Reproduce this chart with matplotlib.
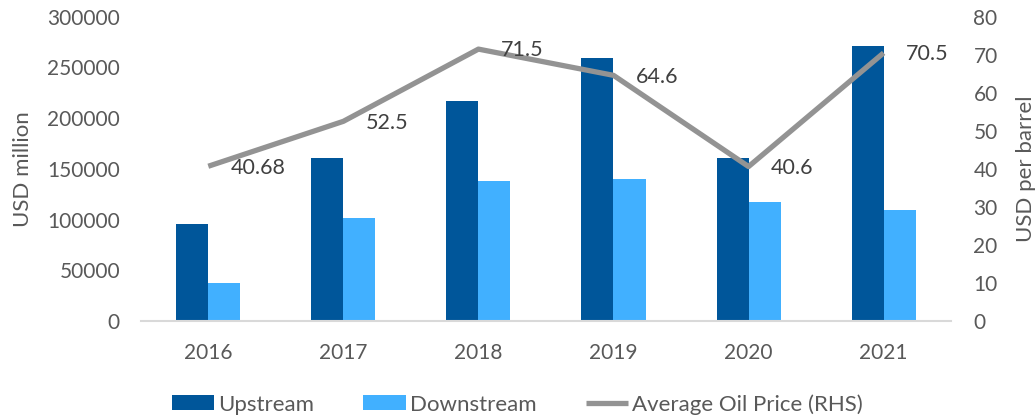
import matplotlib.pyplot as plt
import numpy as np

years = ["2016", "2017", "2018", "2019", "2020", "2021"]
upstream = [96000, 161000, 217000, 259000, 161000, 271000]
downstream = [37500, 101500, 138000, 140000, 117000, 109500]
oil_price = [40.68, 52.5, 71.5, 64.6, 40.6, 70.5]
price_labels = ["40.68", "52.5", "71.5", "64.6", "40.6", "70.5"]

plt.rcParams["font.family"] = ["Lato", "DejaVu Sans"]
text_col = "#595959"

fig = plt.figure(figsize=(10.35, 4.2), dpi=100)
ax = fig.add_axes([0.136, 0.236, 0.783, 0.724])
ax2 = ax.twinx()

x = np.arange(len(years))
w = 0.237
ax.bar(x - w / 2, upstream, w, color="#00569a", label="Upstream")
ax.bar(x + w / 2, downstream, w, color="#41b0ff", label="Downstream")
line, = ax2.plot(x, oil_price, color="#939393", lw=3.8, solid_capstyle="butt",
                 label="Average Oil Price (RHS)")
for xi, v, s in zip(x, oil_price, price_labels):
    ax2.annotate(s, (xi, v), xytext=(16, -1), textcoords="offset points",
                 ha="left", va="center", fontsize=15.5, color="#404040")

ax.set_xlim(-0.5, len(years) - 0.5)
ax.set_ylim(0, 300000)
ax.set_yticks(np.arange(0, 300001, 50000))
ax2.set_ylim(0, 80)
ax2.set_yticks(np.arange(0, 81, 10))
ax.set_xticks(x)
ax.set_xticklabels(years)

for a in (ax, ax2):
    for side in ("top", "left", "right", "bottom"):
        a.spines[side].set_visible(False)
    a.tick_params(length=0, labelsize=15, colors=text_col)
ax.spines["bottom"].set_visible(True)
ax.spines["bottom"].set_color("#d9d9d9")
ax.spines["bottom"].set_linewidth(1.5)
ax.tick_params(axis="y", pad=15)
ax.tick_params(axis="x", pad=16)
ax2.tick_params(axis="y", pad=16)

ax.set_ylabel("USD million", fontsize=16, color=text_col, labelpad=10)
ax2.set_ylabel("USD per barrel", fontsize=16, color=text_col, labelpad=13)

handles = [ax.containers[0], ax.containers[1], line]
fig.legend(handles, ["Upstream", "Downstream", "Average Oil Price (RHS)"],
           loc="lower center", bbox_to_anchor=(0.5, -0.035), ncol=3, frameon=False,
           fontsize=16, labelcolor=text_col, handlelength=1.9, handleheight=0.65,
           handletextpad=0.2, columnspacing=2.2)

fig.savefig("out.png", dpi=100)
